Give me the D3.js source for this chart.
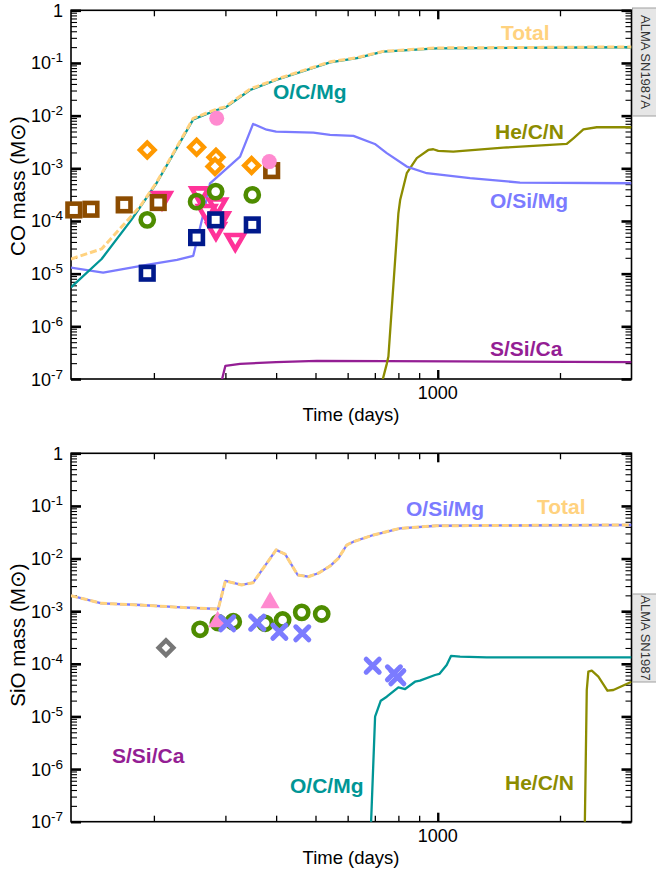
<!DOCTYPE html>
<html>
<head>
<meta charset="utf-8">
<script src="https://cdn.jsdelivr.net/npm/d3@7"></script>
<style>
  body { margin: 0; background: #fff; }
  svg { display: block; }
  text { font-family: "Liberation Sans", Arial, Helvetica, sans-serif; }
</style>
</head>
<body>
<svg id="chart" width="656" height="874"></svg>
<script>
// ---- CO panel: model curves, [time (days), mass (Msun)] ----
const coTotal = [[125,1.9e-5],[148.7,2.95e-5],[171,9.7e-5],[185,1.9e-4],[203,5.4e-4],[250,8.9e-3],[285.5,0.0133],[300,0.0147],[345,0.032],[400,0.049],[543,0.105],[632,0.126],[733,0.166],[994,0.193],[3000,0.202]];
const coOCMg = [[125,5.5e-6],[148.7,1.9e-5],[176,1.05e-4],[203,5.2e-4],[250,8.5e-3],[285.5,0.0128],[300,0.0142],[345,0.0307],[400,0.0475],[543,0.103],[632,0.123],[733,0.164],[994,0.19],[3000,0.199]];
const coOSiMg = [[125,1.3e-5],[150,1.05e-5],[192,1.47e-5],[228,1.83e-5],[250,2.18e-5],[265,1.4e-4],[275,5.2e-4],[326,1.67e-3],[351,6.96e-3],[379,5.4e-3],[400,4.97e-3],[494,4.76e-3],[543,4.3e-3],[620,4.12e-3],[700,2.9e-3],[749,1.94e-3],[839,1.08e-3],[940,8.07e-4],[1201,6.5e-4],[1594,5.36e-4],[3000,5.2e-4]];
const coHeCN = [[720,6e-8],[749,1.94e-7],[756,2.67e-7],[800,1.4e-4],[808,2.5e-4],[839,8.07e-4],[888,1.56e-3],[948,2.23e-3],[975,2.3e-3],[1003,2.14e-3],[1092,2.07e-3],[1451,2.47e-3],[2078,2.9e-3],[2158,3.72e-3],[2284,5.5e-3],[2464,6.02e-3],[3000,6.02e-3]];
const coSSiCa = [[291,7e-8],[300,1.78e-7],[326,1.94e-7],[400,2.09e-7],[504,2.21e-7],[1092,2.16e-7],[3000,2.09e-7]];

// ---- CO panel: observational estimates ----
const coBrownSq = [[127,1.62e-4],[140,1.67e-4],[169,2.02e-4],[205,2.24e-4],[390,9.04e-4]];
const coOrangeDia = [[192.6,2.23e-3],[254.8,2.51e-3],[284.4,1.62e-3],[282.8,1.08e-3],[348,1.13e-3]];
const coPinkDot = [[285.6,8.9e-3],[384.7,1.34e-3]];
const coGreenRing = [[192.6,1.05e-4],[254.8,2.33e-4],[283.9,3.61e-4],[349.4,3.13e-4]];
const coNavySq = [[192.6,1.02e-5],[254.8,4.84e-5],[283.9,1.05e-4],[349.4,8.43e-5]];
const coPinkTri = [[209.4,2.74e-4],[259.8,3.37e-4],[286.5,2.08e-4],[269.8,1.56e-4],[290.9,1.13e-4],[284.4,7.08e-5],[317.3,4.38e-5]];

// ---- SiO panel: model curves ----
const sioTotal = [[125,1.97e-3],[148.7,1.41e-3],[185,1.31e-3],[228,1.19e-3],[288,1.1e-3],[300,3.75e-3],[329,3.15e-3],[351,3.48e-3],[400,0.0146],[421,0.0121],[452,4.87e-3],[480,4.52e-3],[508,5.25e-3],[543,7.2e-3],[569,0.0101],[597,0.0181],[620,0.0209],[694,0.028],[808,0.0376],[994,0.042],[3000,0.0435]];
const sioOSiMg = [[125,1.97e-3],[148.7,1.41e-3],[185,1.31e-3],[228,1.19e-3],[288,1.1e-3],[300,3.75e-3],[329,3.15e-3],[351,3.48e-3],[400,0.0146],[421,0.0121],[452,4.87e-3],[480,4.52e-3],[508,5.25e-3],[543,7.2e-3],[569,0.0101],[597,0.0181],[620,0.0209],[694,0.028],[808,0.0376],[994,0.042],[3000,0.0434]];
const sioOCMg = [[683,5e-8],[701,9.9e-6],[724,1.99e-5],[749,2.37e-5],[800,3.58e-5],[831,3.32e-5],[879,4.57e-5],[904,4.78e-5],[985,6.13e-5],[1009,6.41e-5],[1052,9.5e-5],[1078,1.41e-4],[1135,1.37e-4],[1320,1.33e-4],[3000,1.33e-4]];
const sioHeCN = [[2300,5e-8],[2328,3.18e-5],[2349,7.08e-5],[2395,7.4e-5],[2486,5.69e-5],[2617,3.08e-5],[2707,3.18e-5],[3000,4.57e-5]];

// ---- SiO panel: observational estimates ----
const sioGrayDia = [[214.2,2.02e-4]];
const sioGreenRing = [[259.8,4.53e-4],[288.2,6.04e-4],[313.7,6.3e-4],[375.9,5.89e-4],[415,6.8e-4],[462.4,9.5e-4],[517.9,8.85e-4]];
const sioPinkTri = [[287.1,6.3e-4],[386.4,1.45e-3]];
const sioBlueX = [[303.2,5.89e-4],[359.4,6.04e-4],[407.4,4.07e-4],[463.9,3.8e-4],[691.6,9.2e-5],[780,6.6e-5],[795.3,5.55e-5]];

// ---- axes ----
const timeDomain = [125, 3000];
const massDomain = [1e-7, 1];
const xMajor = [1000];
const xMinor = [200,300,400,500,600,700,800,900,2000];
const xLabels = [1000];
const yExponents = [0,-1,-2,-3,-4,-5,-6,-7];

const C = {
  total: "#FFD27F", ocmg: "#009696", osimg: "#7B7BFF", hecn: "#8C8C00", ssica: "#941E94",
  brown: "#8C4C00", orange: "#FF9900", pinkDot: "#FF8AD0", green: "#4E8C00",
  navy: "#00198C", pinkTri: "#FF3399", gray: "#777777"
};

const svg = d3.select("#chart");
const x = d3.scaleLog().domain(timeDomain).range([71, 631.5]);

function panel(opts) {
  const y = d3.scaleLog().domain(massDomain).range([opts.y0, opts.y1]);
  const g = svg.append("g");
  const x0 = x.range()[0], x1 = x.range()[1];
  const clipId = "clip" + opts.id;
  svg.append("clipPath").attr("id", clipId).append("rect")
    .attr("x", x0).attr("y", opts.y1).attr("width", x1 - x0).attr("height", opts.y0 - opts.y1);

  const yMinor = [];
  yExponents.slice(0, -1).forEach(e => { for (let k = 2; k <= 9; k++) yMinor.push(k * Math.pow(10, e - 1)); });
  const yMajor = yExponents.map(e => Math.pow(10, e));

  const axes = g.append("g");
  function addAxis(axis, tx, ty, w) {
    const a = axes.append("g").attr("transform", `translate(${tx},${ty})`).call(axis);
    a.select(".domain").remove();
    a.selectAll("line").attr("stroke", "#000").attr("stroke-width", w);
  }
  addAxis(d3.axisBottom(x).tickValues(xMinor).tickSize(-6).tickFormat(""), 0, opts.y0, 1.3);
  addAxis(d3.axisBottom(x).tickValues(xMajor).tickSize(-9).tickFormat(""), 0, opts.y0, 2.4);
  addAxis(d3.axisTop(x).tickValues(xMinor).tickSize(-6).tickFormat(""), 0, opts.y1, 1.3);
  addAxis(d3.axisTop(x).tickValues(xMajor).tickSize(-9).tickFormat(""), 0, opts.y1, 2.4);
  addAxis(d3.axisLeft(y).tickValues(yMinor).tickSize(-6).tickFormat(""), x0, 0, 1.1);
  addAxis(d3.axisLeft(y).tickValues(yMajor).tickSize(-10).tickFormat(""), x0, 0, 2.6);
  addAxis(d3.axisRight(y).tickValues(yMinor).tickSize(-6).tickFormat(""), x1, 0, 1.1);
  addAxis(d3.axisRight(y).tickValues(yMajor).tickSize(-10).tickFormat(""), x1, 0, 2.6);
  g.append("rect").attr("x", x0).attr("y", opts.y1).attr("width", x1 - x0).attr("height", opts.y0 - opts.y1)
    .attr("fill", "none").attr("stroke", "#000").attr("stroke-width", 1.6);

  // y tick labels as powers of ten
  yExponents.forEach(e => {
    const t = g.append("text").attr("x", 63).attr("y", y(Math.pow(10, e)) + 6.5)
      .attr("text-anchor", "end").attr("font-size", 18).attr("fill", "#000");
    if (e === 0) { t.text("1"); }
    else {
      t.append("tspan").text("10");
      t.append("tspan").attr("font-size", 13.5).attr("dy", -7).text(String(e));
    }
  });
  xLabels.forEach(v => {
    g.append("text").attr("x", x(v)).attr("y", opts.y0 + 20).attr("text-anchor", "middle")
      .attr("font-size", 18).text(d3.format("d")(v));
  });
  g.append("text").attr("x", 351).attr("y", opts.y0 + 42).attr("text-anchor", "middle")
    .attr("font-size", 18.5).text("Time (days)");
  g.append("text").attr("transform", `translate(25,${opts.titleY}) rotate(-90)`)
    .attr("text-anchor", "middle").attr("font-size", 20.5).text(opts.yTitle);

  const plot = g.append("g").attr("clip-path", `url(#${clipId})`);
  const line = d3.line().x(d => x(d[0])).y(d => y(d[1]));
  opts.lines.forEach(L => {
    plot.append("path").datum(L.data).attr("d", line).attr("fill", "none")
      .attr("stroke", L.color).attr("stroke-width", L.width || 2.3)
      .attr("stroke-dasharray", L.dash || null).attr("stroke-linejoin", "round");
  });

  const mk = g.append("g");
  opts.markers.forEach(M => {
    M.data.forEach(d => drawMarker(mk, M.type, x(d[0]), y(d[1]), M.color));
  });

  opts.labels.forEach(L => {
    g.append("text").attr("x", L.x).attr("y", L.y).attr("font-size", 21).attr("font-weight", "bold")
      .attr("fill", L.color).text(L.text);
  });

  // ALMA tab on the right edge
  const tab = svg.append("g");
  tab.append("rect").attr("x", 632.5).attr("y", opts.tab[0]).attr("width", 26).attr("height", opts.tab[1] - opts.tab[0])
    .attr("fill", "#E6E6E6").attr("stroke", "#A0A0A0").attr("stroke-width", 1);
  tab.append("text").attr("transform", `translate(641,${(opts.tab[0] + opts.tab[1]) / 2}) rotate(90)`)
    .attr("text-anchor", "middle").attr("font-size", 13).attr("fill", "#333").text(opts.tabText);
}

function drawMarker(g, type, cx, cy, color) {
  if (type === "sq") {
    g.append("rect").attr("x", cx - 6.3).attr("y", cy - 6.3).attr("width", 12.6).attr("height", 12.6)
      .attr("fill", "#fff").attr("stroke", color).attr("stroke-width", 4.6);
  } else if (type === "dia") {
    g.append("rect").attr("x", -5.2).attr("y", -5.2).attr("width", 10.4).attr("height", 10.4)
      .attr("transform", `translate(${cx},${cy}) rotate(45)`)
      .attr("fill", "#fff").attr("stroke", color).attr("stroke-width", 4.4);
  } else if (type === "ring") {
    g.append("circle").attr("cx", cx).attr("cy", cy).attr("r", 6.6)
      .attr("fill", "none").attr("stroke", color).attr("stroke-width", 4.6);
  } else if (type === "dot") {
    g.append("circle").attr("cx", cx).attr("cy", cy).attr("r", 7.5).attr("fill", color);
  } else if (type === "triDown") {
    g.append("path").attr("d", d3.symbol(d3.symbolTriangle, 120)())
      .attr("transform", `translate(${cx},${cy}) rotate(180)`)
      .attr("fill", "#fff").attr("stroke", color).attr("stroke-width", 4.6).attr("stroke-linejoin", "miter");
  } else if (type === "triUp") {
    g.append("path").attr("d", d3.symbol(d3.symbolTriangle, 160)())
      .attr("transform", `translate(${cx},${cy})`).attr("fill", color);
  } else if (type === "x") {
    const s = 6.5;
    g.append("path").attr("d", `M${cx - s},${cy - s}L${cx + s},${cy + s}M${cx - s},${cy + s}L${cx + s},${cy - s}`)
      .attr("stroke", color).attr("stroke-width", 5).attr("stroke-linecap", "round");
  }
}

panel({
  id: "co", y0: 379, y1: 10.3, titleY: 186, yTitle: "CO mass (M\u2299)",
  tab: [8, 116], tabText: "ALMA SN1987A",
  lines: [
    { data: coSSiCa, color: C.ssica },
    { data: coHeCN, color: C.hecn },
    { data: coOSiMg, color: C.osimg },
    { data: coOCMg, color: C.ocmg },
    { data: coTotal, color: C.total, width: 3, dash: "7,3" }
  ],
  markers: [
    { type: "triDown", data: coPinkTri, color: C.pinkTri },
    { type: "sq", data: coBrownSq, color: C.brown },
    { type: "sq", data: coNavySq, color: C.navy },
    { type: "ring", data: coGreenRing, color: C.green },
    { type: "dia", data: coOrangeDia, color: C.orange },
    { type: "dot", data: coPinkDot, color: C.pinkDot }
  ],
  labels: [
    { text: "Total", x: 501, y: 40, color: C.total },
    { text: "O/C/Mg", x: 273, y: 99, color: C.ocmg },
    { text: "He/C/N", x: 495, y: 139, color: C.hecn },
    { text: "O/Si/Mg", x: 490, y: 208, color: C.osimg },
    { text: "S/Si/Ca", x: 490, y: 356, color: C.ssica }
  ]
});

panel({
  id: "sio", y0: 821.7, y1: 453.3, titleY: 635, yTitle: "SiO mass (M\u2299)",
  tab: [594, 682], tabText: "ALMA SN1987",
  lines: [
    { data: sioHeCN, color: C.hecn },
    { data: sioOCMg, color: C.ocmg },
    { data: sioOSiMg, color: C.osimg },
    { data: sioTotal, color: C.total, width: 3, dash: "7,3" }
  ],
  markers: [
    { type: "dia", data: sioGrayDia, color: C.gray },
    { type: "ring", data: sioGreenRing, color: C.green },
    { type: "triUp", data: sioPinkTri, color: C.pinkDot },
    { type: "x", data: sioBlueX, color: C.osimg }
  ],
  labels: [
    { text: "O/Si/Mg", x: 406, y: 516, color: C.osimg },
    { text: "Total", x: 537, y: 514, color: C.total },
    { text: "S/Si/Ca", x: 112, y: 763, color: C.ssica },
    { text: "O/C/Mg", x: 290, y: 793, color: C.ocmg },
    { text: "He/C/N", x: 505, y: 790, color: C.hecn }
  ]
});
</script>
</body>
</html>
